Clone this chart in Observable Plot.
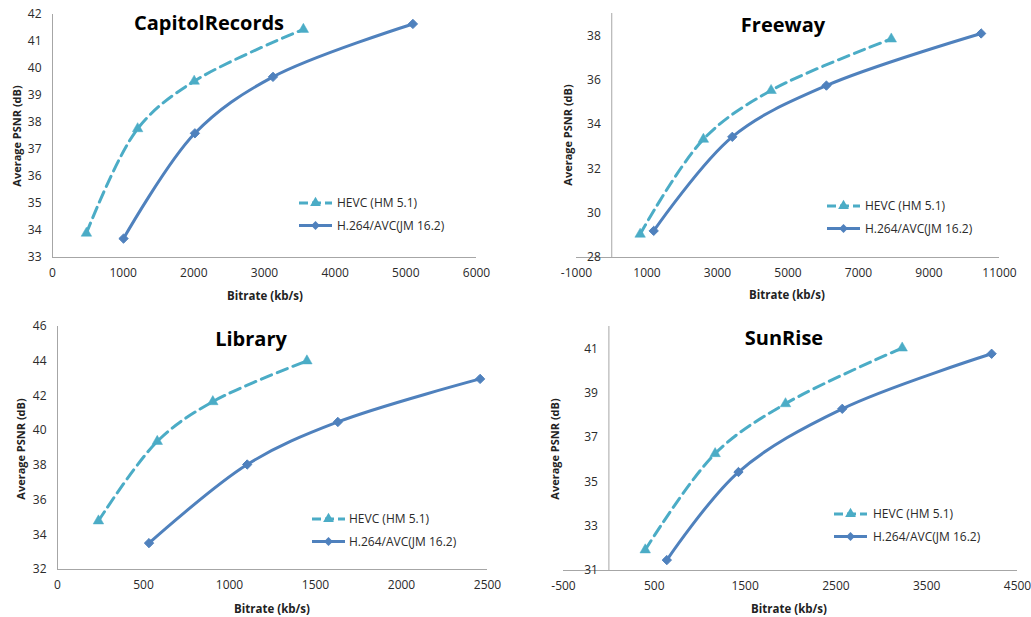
<!DOCTYPE html>
<html>
<head>
<meta charset="utf-8">
<script src="https://cdn.jsdelivr.net/npm/d3@7"></script>
<script src="https://cdn.jsdelivr.net/npm/@observablehq/plot@0.6"></script>
<style>
  html, body { margin: 0; padding: 0; background: #fff; }
  #root { position: relative; width: 1031px; height: 617px; overflow: hidden; font-family: "Open Sans", sans-serif; }
  .panel { position: absolute; }
  .title { position: absolute; font-weight: bold; font-size: 20px; color: #000; transform: translate(-50%, -50%); white-space: nowrap; font-family: "Open Sans", sans-serif; }
  .ylab { position: absolute; font-weight: bold; font-size: 11px; color: #222; transform: translate(-50%, -50%) rotate(-90deg); white-space: nowrap; }
  .xlab { position: absolute; font-weight: bold; font-size: 11.5px; color: #222; transform: translate(-50%, -50%); white-space: nowrap; }
  .legend { position: absolute; }
</style>
</head>
<body>
<div id="root"></div>
<script>
// ---------- data ----------
const seriesNames = ["HEVC (HM 5.1)", "H.264/AVC(JM 16.2)"];

const capHevcX = [480, 1205, 2005, 3550];
const capHevcY = [33.9, 37.77, 39.53, 41.45];
const capAvcX  = [1005, 2015, 3120, 5100];
const capAvcY  = [33.7, 37.6, 39.69, 41.65];
const capXTicks = [0, 1000, 2000, 3000, 4000, 5000, 6000];
const capYTicks = [33, 34, 35, 36, 37, 38, 39, 40, 41, 42];

const freeHevcX = [805, 2600, 4520, 7930];
const freeHevcY = [29.05, 33.33, 35.53, 37.85];
const freeAvcX  = [1190, 3420, 6090, 10480];
const freeAvcY  = [29.2, 33.44, 35.75, 38.1];
const freeXTicks = [-1000, 1000, 3000, 5000, 7000, 9000, 11000];
const freeYTicks = [28, 30, 32, 34, 36, 38];

const libHevcX = [238, 580, 903, 1450];
const libHevcY = [34.8, 39.38, 41.67, 44.02];
const libAvcX  = [532, 1103, 1630, 2457];
const libAvcY  = [33.52, 38.05, 40.5, 42.98];
const libXTicks = [0, 500, 1000, 1500, 2000, 2500];
const libYTicks = [32, 34, 36, 38, 40, 42, 44, 46];

const sunHevcX = [400, 1170, 1945, 3230];
const sunHevcY = [31.93, 36.27, 38.52, 41.03];
const sunAvcX  = [638, 1427, 2570, 4215];
const sunAvcY  = [31.47, 35.44, 38.29, 40.77];
const sunXTicks = [-500, 500, 1500, 2500, 3500, 4500];
const sunYTicks = [31, 33, 35, 37, 39, 41];

const titles = ["CapitolRecords", "Freeway", "Library", "SunRise"];
const yLabel = "Average PSNR (dB)";
const xLabel = "Bitrate (kb/s)";

// ---------- styles ----------
const hevcColor = "#4BACC6";
const avcColor = "#4F81BD";
const axisColor = "#A6A6A6";
const tickColor = "#2a2a2a";

function zip(xs, ys) { return xs.map((x, i) => ({x, y: ys[i]})); }

const panels = [
  {title: titles[0], hx: capHevcX, hy: capHevcY, ax: capAvcX, ay: capAvcY, xt: capXTicks, yt: capYTicks,
   xd: [0, 6000], yd: [33, 42], left: 0, top: 0, w: 515, h: 308, ml: 52, mr: 39, mt: 14, mb: 51,
   tx: 209, ty: 22, ylx: 16, yly: 136, xlx: 265, xly: 295, lgx: 299, lgy: 203, lgt: 337},
  {title: titles[1], hx: freeHevcX, hy: freeHevcY, ax: freeAvcX, ay: freeAvcY, xt: freeXTicks, yt: freeYTicks,
   xd: [-1000, 11000], yd: [28, 39], left: 515, top: 0, w: 516, h: 308, ml: 61, mr: 32, mt: 13, mb: 51,
   tx: 783, ty: 24, ylx: 567, yly: 135, xlx: 787, xly: 294, lgx: 827, lgy: 206, lgt: 865},
  {title: titles[2], hx: libHevcX, hy: libHevcY, ax: libAvcX, ay: libAvcY, xt: libXTicks, yt: libYTicks,
   xd: [0, 2500], yd: [32, 46], left: 0, top: 310, w: 515, h: 307, ml: 57, mr: 28, mt: 16, mb: 48,
   tx: 251, ty: 338, ylx: 20, yly: 449, xlx: 272, xly: 608, lgx: 312, lgy: 519, lgt: 349},
  {title: titles[3], hx: sunHevcX, hy: sunHevcY, ax: sunAvcX, ay: sunAvcY, xt: sunXTicks, yt: sunYTicks,
   xd: [-500, 4500], yd: [31, 42], left: 515, top: 310, w: 516, h: 307, ml: 48, mr: 14, mt: 16, mb: 47,
   tx: 784, ty: 337, ylx: 554, yly: 449, xlx: 789, xly: 608, lgx: 834, lgy: 514, lgt: 873}
];

const root = document.getElementById("root");

for (const p of panels) {
  const hevc = zip(p.hx, p.hy);
  const avc = zip(p.ax, p.ay);
  const chart = Plot.plot({
    width: p.w, height: p.h,
    marginLeft: p.ml, marginRight: p.mr, marginTop: p.mt, marginBottom: p.mb,
    style: {fontFamily: "'Open Sans', sans-serif", fontSize: "12px", color: tickColor, background: "transparent"},
    x: {domain: p.xd, axis: null},
    y: {domain: p.yd, axis: null},
    marks: [
      Plot.ruleY([p.yd[0]], {stroke: axisColor, strokeWidth: 1}),
      Plot.ruleX([0], {y1: p.yd[0], y2: p.yd[1], stroke: axisColor, strokeWidth: 1}),
      Plot.axisX({ticks: p.xt, tickSize: 0, tickPadding: 11, tickFormat: d => String(d), fill: tickColor, label: null, fontSize: 12}),
      Plot.text(p.yt, {x: 0, y: d => d, text: d => String(d), dx: -11, textAnchor: "end", fill: tickColor, fontSize: 12}),
      Plot.line(avc, {x: "x", y: "y", stroke: avcColor, strokeWidth: 3, curve: "catmull-rom"}),
      Plot.dot(avc, {x: "x", y: "y", symbol: "diamond2", r: 4.2, fill: avcColor, stroke: avcColor, strokeWidth: 1}),
      Plot.line(hevc, {x: "x", y: "y", stroke: hevcColor, strokeWidth: 3, strokeDasharray: "11,6", curve: "catmull-rom"}),
      Plot.dot(hevc, {x: "x", y: "y", symbol: "triangle", r: 3.9, fill: hevcColor, stroke: hevcColor, strokeWidth: 0.5})
    ]
  });
  chart.classList.add("panel");
  chart.style.left = p.left + "px";
  chart.style.top = p.top + "px";
  root.appendChild(chart);

  const t = document.createElement("div");
  t.className = "title"; t.textContent = p.title;
  t.style.left = p.tx + "px"; t.style.top = p.ty + "px";
  root.appendChild(t);

  const yl = document.createElement("div");
  yl.className = "ylab"; yl.textContent = yLabel;
  yl.style.left = p.ylx + "px"; yl.style.top = p.yly + "px";
  root.appendChild(yl);

  const xl = document.createElement("div");
  xl.className = "xlab"; xl.textContent = xLabel;
  xl.style.left = p.xlx + "px"; xl.style.top = p.xly + "px";
  root.appendChild(xl);

  // legend
  const lg = d3.create("svg")
    .attr("class", "legend")
    .attr("width", 200).attr("height", 40)
    .style("left", (p.lgx) + "px").style("top", (p.lgy - 10) + "px")
    .style("overflow", "visible");
  const items = [
    {name: seriesNames[0], color: hevcColor, dash: "9,4", sym: d3.symbolTriangle},
    {name: seriesNames[1], color: avcColor, dash: null, sym: d3.symbolDiamond2}
  ];
  items.forEach((it, i) => {
    const yy = 10 + i * 22.5;
    lg.append("line").attr("x1", 0).attr("x2", 33).attr("y1", yy).attr("y2", yy)
      .attr("stroke", it.color).attr("stroke-width", 3)
      .attr("stroke-dasharray", it.dash);
    lg.append("path").attr("d", d3.symbol(it.sym, 50)())
      .attr("transform", `translate(16.5,${yy})`).attr("fill", it.color);
    lg.append("text").attr("x", p.lgt - p.lgx).attr("y", yy).attr("dy", "0.35em")
      .attr("font-family", "'Open Sans', sans-serif").attr("font-size", 12).attr("fill", tickColor)
      .text(it.name);
  });
  root.appendChild(lg.node());
}
</script>
</body>
</html>
